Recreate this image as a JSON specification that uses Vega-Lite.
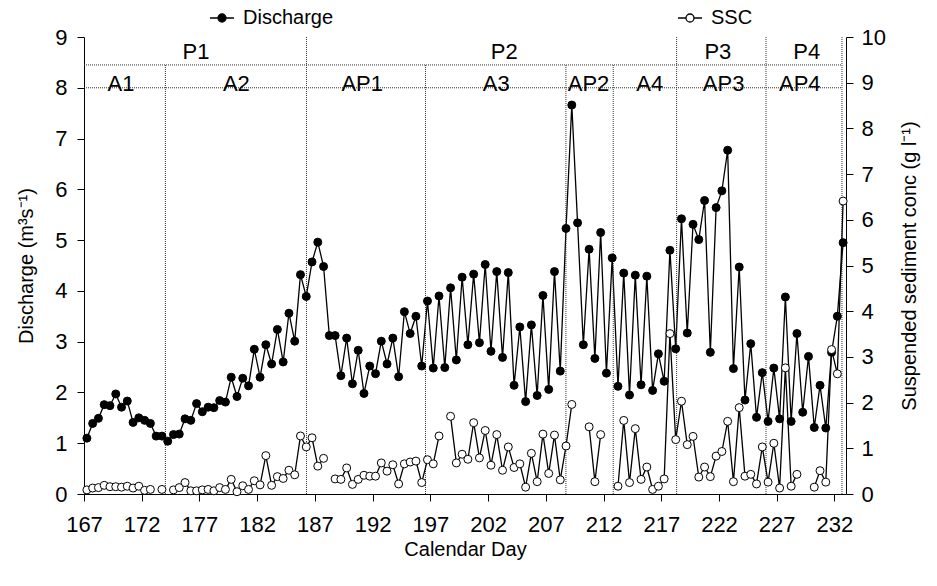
{
  "$schema": "https://vega.github.io/schema/vega-lite/v6.json",
  "width": 762,
  "height": 457,
  "autosize": {"type": "none"},
  "padding": {"left": 84, "top": 37, "right": 91, "bottom": 92},
  "background": "white",
  "config": {
    "view": {"stroke": null},
    "font": "Liberation Sans",
    "axis": {
      "grid": false,
      "domainColor": "black",
      "tickColor": "black",
      "labelColor": "black",
      "titleColor": "black",
      "labelFont": "Liberation Sans",
      "titleFont": "Liberation Sans",
      "labelFontSize": 22,
      "titleFontSize": 20,
      "titleFontWeight": "normal",
      "tickSize": 7,
      "labelPadding": 4,
      "labelFlush": false,
      "labelOverlap": false
    }
  },
  "datasets": {
    "flow": [
      {"day":167.25,"q":1.10,"s":0.09},{"day":167.75,"q":1.39,"s":0.13},{"day":168.25,"q":1.49,"s":0.14},{"day":168.75,"q":1.76,"s":0.19},
      {"day":169.25,"q":1.74,"s":0.16},{"day":169.75,"q":1.97,"s":0.16},{"day":170.25,"q":1.71,"s":0.15},{"day":170.75,"q":1.83,"s":0.17},
      {"day":171.25,"q":1.41,"s":0.13},{"day":171.75,"q":1.50,"s":0.17},{"day":172.25,"q":1.45,"s":0.08},{"day":172.75,"q":1.39,"s":0.10},
      {"day":173.25,"q":1.14,"s":null},{"day":173.75,"q":1.14,"s":0.10},{"day":174.25,"q":1.04,"s":null},{"day":174.75,"q":1.17,"s":0.09},
      {"day":175.25,"q":1.18,"s":0.14},{"day":175.75,"q":1.48,"s":0.25},{"day":176.25,"q":1.45,"s":0.07},{"day":176.75,"q":1.78,"s":0.07},
      {"day":177.25,"q":1.62,"s":0.09},{"day":177.75,"q":1.71,"s":0.10},{"day":178.25,"q":1.70,"s":0.07},{"day":178.75,"q":1.84,"s":0.14},
      {"day":179.25,"q":1.81,"s":0.10},{"day":179.75,"q":2.30,"s":0.32},{"day":180.25,"q":1.92,"s":0.05},{"day":180.75,"q":2.28,"s":0.18},
      {"day":181.25,"q":2.13,"s":0.10},{"day":181.75,"q":2.85,"s":0.29},{"day":182.25,"q":2.30,"s":0.20},{"day":182.75,"q":2.94,"s":0.84},
      {"day":183.25,"q":2.56,"s":0.19},{"day":183.75,"q":3.24,"s":0.38},{"day":184.25,"q":2.60,"s":0.34},{"day":184.75,"q":3.56,"s":0.52},
      {"day":185.25,"q":3.01,"s":0.42},{"day":185.75,"q":4.32,"s":1.27},{"day":186.25,"q":3.89,"s":1.03},{"day":186.75,"q":4.57,"s":1.23},
      {"day":187.25,"q":4.96,"s":0.61},{"day":187.75,"q":4.48,"s":0.78},{"day":188.25,"q":3.12,"s":null},{"day":188.75,"q":3.12,"s":0.33},
      {"day":189.25,"q":2.33,"s":0.32},{"day":189.75,"q":3.07,"s":0.57},{"day":190.25,"q":2.17,"s":0.21},{"day":190.75,"q":2.83,"s":0.32},
      {"day":191.25,"q":1.98,"s":0.41},{"day":191.75,"q":2.52,"s":0.39},{"day":192.25,"q":2.37,"s":0.39},{"day":192.75,"q":3.01,"s":0.68},
      {"day":193.25,"q":2.56,"s":0.50},{"day":193.75,"q":3.07,"s":0.64},{"day":194.25,"q":2.31,"s":0.22},{"day":194.75,"q":3.59,"s":0.66},
      {"day":195.25,"q":3.16,"s":0.70},{"day":195.75,"q":3.50,"s":0.72},{"day":196.25,"q":2.52,"s":0.25},{"day":196.75,"q":3.80,"s":0.75},
      {"day":197.25,"q":2.48,"s":0.66},{"day":197.75,"q":3.90,"s":1.27},{"day":198.25,"q":2.49,"s":null},{"day":198.75,"q":4.06,"s":1.70},
      {"day":199.25,"q":2.64,"s":0.68},{"day":199.75,"q":4.27,"s":0.87},{"day":200.25,"q":2.94,"s":0.76},{"day":200.75,"q":4.33,"s":1.56},
      {"day":201.25,"q":2.98,"s":0.79},{"day":201.75,"q":4.52,"s":1.39},{"day":202.25,"q":2.81,"s":0.63},{"day":202.75,"q":4.38,"s":1.30},
      {"day":203.25,"q":2.69,"s":0.52},{"day":203.75,"q":4.36,"s":1.03},{"day":204.25,"q":2.14,"s":0.58},{"day":204.75,"q":3.29,"s":0.66},
      {"day":205.25,"q":1.82,"s":0.15},{"day":205.75,"q":3.33,"s":0.89},{"day":206.25,"q":1.94,"s":0.27},{"day":206.75,"q":3.91,"s":1.31},
      {"day":207.25,"q":2.06,"s":0.45},{"day":207.75,"q":4.38,"s":1.29},{"day":208.25,"q":2.42,"s":0.31},{"day":208.75,"q":5.23,"s":1.05},
      {"day":209.25,"q":7.66,"s":1.96},{"day":209.75,"q":5.34,"s":null},{"day":210.25,"q":2.94,"s":null},{"day":210.75,"q":4.82,"s":1.47},
      {"day":211.25,"q":2.67,"s":0.27},{"day":211.75,"q":5.15,"s":1.30},{"day":212.25,"q":2.38,"s":null},{"day":212.75,"q":4.65,"s":null},
      {"day":213.25,"q":2.12,"s":0.17},{"day":213.75,"q":4.35,"s":1.61},{"day":214.25,"q":1.95,"s":0.25},{"day":214.75,"q":4.31,"s":1.43},
      {"day":215.25,"q":2.15,"s":0.32},{"day":215.75,"q":4.29,"s":0.59},{"day":216.25,"q":2.04,"s":0.10},{"day":216.75,"q":2.76,"s":0.17},
      {"day":217.25,"q":2.22,"s":0.33},{"day":217.75,"q":4.80,"s":3.51},{"day":218.25,"q":2.86,"s":1.19},{"day":218.75,"q":5.42,"s":2.03},
      {"day":219.25,"q":3.17,"s":1.08},{"day":219.75,"q":5.31,"s":1.26},{"day":220.25,"q":5.01,"s":0.37},{"day":220.75,"q":5.78,"s":0.59},
      {"day":221.25,"q":2.79,"s":0.38},{"day":221.75,"q":5.64,"s":0.83},{"day":222.25,"q":5.97,"s":0.93},{"day":222.75,"q":6.77,"s":1.59},
      {"day":223.25,"q":2.47,"s":0.27},{"day":223.75,"q":4.47,"s":1.89},{"day":224.25,"q":1.85,"s":0.39},{"day":224.75,"q":2.96,"s":0.43},
      {"day":225.25,"q":1.51,"s":0.22},{"day":225.75,"q":2.39,"s":1.03},{"day":226.25,"q":1.43,"s":0.26},{"day":226.75,"q":2.48,"s":1.11},
      {"day":227.25,"q":1.48,"s":0.13},{"day":227.75,"q":3.88,"s":2.76},{"day":228.25,"q":1.43,"s":0.17},{"day":228.75,"q":3.16,"s":0.43},
      {"day":229.25,"q":1.61,"s":null},{"day":229.75,"q":2.71,"s":null},{"day":230.25,"q":1.31,"s":0.15},{"day":230.75,"q":2.14,"s":0.51},
      {"day":231.25,"q":1.30,"s":0.26},{"day":231.75,"q":2.79,"s":3.16},{"day":232.25,"q":3.50,"s":2.63},{"day":232.75,"q":4.95,"s":6.41}
    ],
    "bounds": [
      {"day":174.05,"lo":0,"hi":8.45},{"day":186.27,"lo":0,"hi":9},{"day":196.58,"lo":0,"hi":8.45},{"day":208.74,"lo":0,"hi":8.45},
      {"day":212.84,"lo":0,"hi":8.45},{"day":218.33,"lo":0,"hi":9},{"day":226.07,"lo":0,"hi":9},{"day":232.65,"lo":0,"hi":9}
    ],
    "hlines": [
      {"from":167,"to":232.65,"level":8.45},{"from":167,"to":232.65,"level":8.0}
    ],
    "labels": [
      {"name":"P1","day":176.7,"lev":8.56},{"name":"P2","day":203.4,"lev":8.56},{"name":"P3","day":221.9,"lev":8.56},{"name":"P4","day":229.6,"lev":8.56},
      {"name":"A1","day":170.2,"lev":7.94},{"name":"A2","day":180.2,"lev":7.94},{"name":"AP1","day":191.1,"lev":7.94},{"name":"A3","day":202.7,"lev":7.94},
      {"name":"AP2","day":210.7,"lev":7.94},{"name":"A4","day":216.0,"lev":7.94},{"name":"AP3","day":222.4,"lev":7.94},{"name":"AP4","day":229.0,"lev":7.94}
    ]
  },
  "layer": [
    {
      "layer": [
        {
          "data": {"name": "flow"},
          "mark": {"type": "line", "color": "black", "strokeWidth": 1.3},
          "encoding": {
            "x": {
              "field": "day", "type": "quantitative",
              "scale": {"domain": [167, 233], "nice": false, "zero": false},
              "axis": {
                "title": "Calendar Day",
                "values": [167, 169.5, 172, 174.5, 177, 179.5, 182, 184.5, 187, 189.5, 192, 194.5, 197, 199.5, 202, 204.5, 207, 209.5, 212, 214.5, 217, 219.5, 222, 224.5, 227, 229.5, 232],
                "labelExpr": "datum.value % 5 == 2 ? format(datum.value, 'd') : ''",
                "labelPadding": 13,
                "titlePadding": 4
              }
            },
            "y": {
              "field": "q", "type": "quantitative",
              "scale": {"domain": [0, 9], "nice": false},
              "axis": {"title": "Discharge (m³s⁻¹)", "values": [0,1,2,3,4,5,6,7,8,9], "labelPadding": 10, "titlePadding": 18}
            }
          }
        },
        {
          "data": {"name": "hlines"},
          "mark": {"type": "rule", "color": "#333333", "strokeWidth": 1, "strokeDash": [1, 1]},
          "encoding": {
            "x": {"field": "from", "type": "quantitative", "title": "Calendar Day"},
            "x2": {"field": "to"},
            "y": {"field": "level", "type": "quantitative", "title": "Discharge (m³s⁻¹)"}
          }
        },
        {
          "data": {"name": "bounds"},
          "mark": {"type": "rule", "color": "#333333", "strokeWidth": 1, "strokeDash": [1, 1]},
          "encoding": {
            "x": {"field": "day", "type": "quantitative", "title": "Calendar Day"},
            "y": {"field": "lo", "type": "quantitative", "title": "Discharge (m³s⁻¹)"},
            "y2": {"field": "hi"}
          }
        },
        {
          "data": {"name": "labels"},
          "mark": {"type": "text", "font": "Liberation Sans", "fontSize": 22, "align": "center", "baseline": "alphabetic", "color": "black"},
          "encoding": {
            "x": {"field": "day", "type": "quantitative", "title": "Calendar Day"},
            "y": {"field": "lev", "type": "quantitative", "title": "Discharge (m³s⁻¹)"},
            "text": {"field": "name"}
          }
        },
        {
          "data": {"name": "flow"},
          "mark": {"type": "circle", "size": 64, "stroke": "black", "strokeWidth": 1, "opacity": 1},
          "encoding": {
            "x": {"field": "day", "type": "quantitative", "title": "Calendar Day"},
            "y": {"field": "q", "type": "quantitative", "title": "Discharge (m³s⁻¹)"},
            "fill": {
              "datum": "Discharge", "type": "nominal",
              "scale": {"domain": ["Discharge", "SSC"], "range": ["black", "white"]},
              "legend": {
                "orient": "none", "legendX": 128, "legendY": -29, "direction": "horizontal", "title": null,
                "symbolType": "M-3,0L-1,0M1,0L3,0M-1,0A1,1,0,1,1,1,0A1,1,0,1,1,-1,0Z",
                "symbolSize": 64, "symbolStrokeColor": "black", "symbolStrokeWidth": 1.3,
                "labelFontSize": 20, "labelFont": "Liberation Sans", "labelColor": "black",
                "labelOffset": 11, "columnPadding": 341, "padding": 0
              }
            }
          }
        }
      ]
    },
    {
      "layer": [
        {
          "data": {"name": "flow"},
          "mark": {"type": "line", "color": "black", "strokeWidth": 1.3, "invalid": "break-paths-show-domains"},
          "encoding": {
            "x": {"field": "day", "type": "quantitative", "title": "Calendar Day"},
            "y": {
              "field": "s", "type": "quantitative",
              "scale": {"domain": [0, 10], "nice": false},
              "axis": {"orient": "right", "title": "Suspended sediment conc (g l⁻¹)", "values": [0,1,2,3,4,5,6,7,8,9,10], "labelPadding": 8, "titlePadding": 14, "titleAngle": 270, "titleBaseline": "top"}
            }
          }
        },
        {
          "data": {"name": "flow"},
          "mark": {"type": "circle", "size": 64, "stroke": "black", "strokeWidth": 1, "opacity": 1},
          "encoding": {
            "x": {"field": "day", "type": "quantitative", "title": "Calendar Day"},
            "y": {"field": "s", "type": "quantitative", "title": "Suspended sediment conc (g l⁻¹)", "axis": {"orient": "right"}},
            "fill": {
              "datum": "SSC", "type": "nominal",
              "scale": {"domain": ["Discharge", "SSC"], "range": ["black", "white"]}
            }
          }
        }
      ]
    }
  ],
  "resolve": {"scale": {"y": "independent"}}
}
